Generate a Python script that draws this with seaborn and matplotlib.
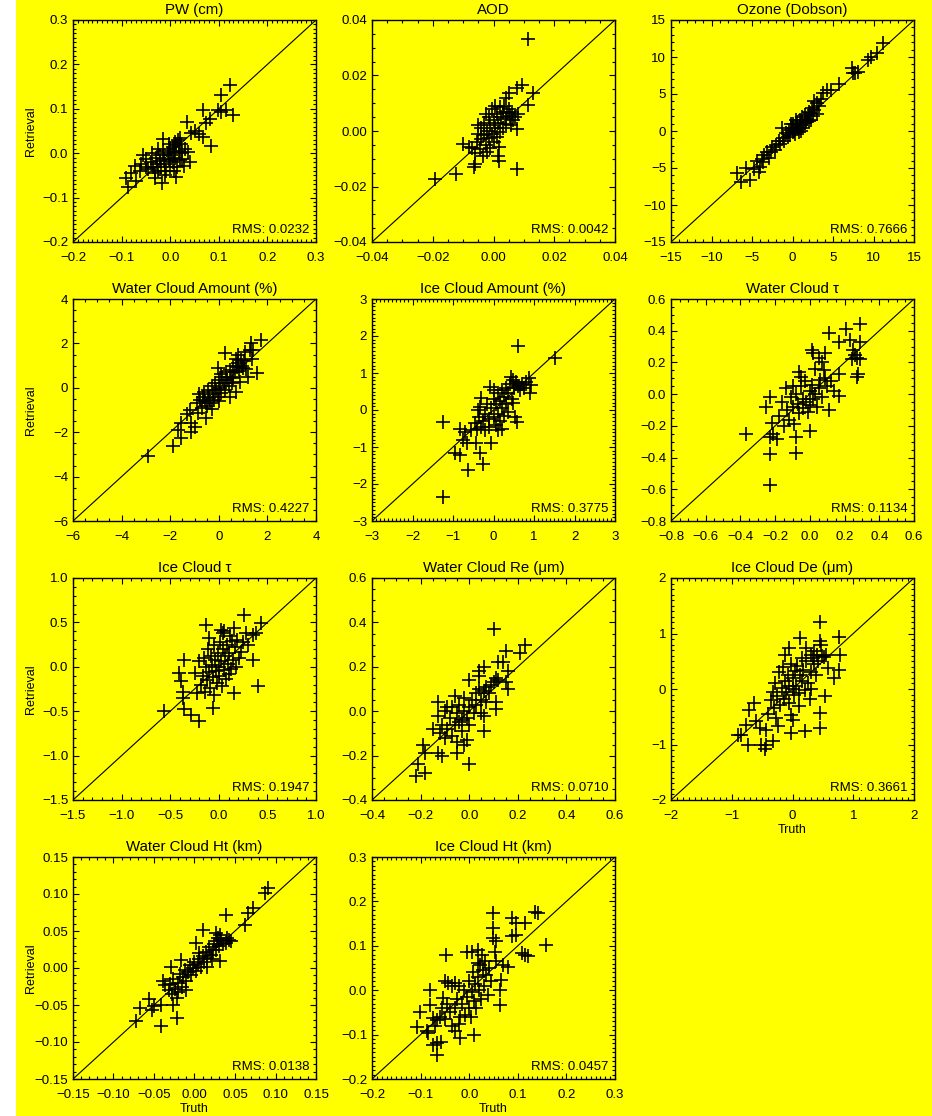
import matplotlib
matplotlib.use("Agg")
import matplotlib.pyplot as plt
from matplotlib.patches import Rectangle
from matplotlib.ticker import MultipleLocator, FuncFormatter
import pandas as pd
import seaborn as sns

# (truth, retrieval) pairs for each retrieved quantity
pw_points = [
    (0.123, 0.154), (0.105, 0.131), (0.068, 0.097), (0.098, 0.097), (0.114, 0.097),
    (0.105, 0.092), (0.129, 0.086), (0.081, 0.078), (0.074, 0.068), (0.035, 0.070),
    (0.084, 0.016), (0.059, 0.044), (0.067, 0.036), (0.042, 0.045), (0.050, 0.050),
    (-0.015, 0.033), (0.016, 0.029), (0.020, 0.034), (0.010, 0.025), (-0.056, -0.005),
    (-0.090, -0.055), (-0.087, -0.075), (-0.073, -0.028), (-0.070, -0.062), (-0.080, -0.045),
    (-0.062, -0.040), (-0.049, -0.013), (-0.050, -0.030), (-0.032, -0.055), (-0.016, -0.066),
    (0.012, -0.053), (0.036, 0.002), (0.029, -0.028), (0.040, -0.020), (0.025, -0.012),
    (-0.040, -0.020), (-0.035, -0.030), (-0.030, -0.010), (-0.028, -0.025), (-0.025, -0.040),
    (-0.022, -0.005), (-0.020, -0.018), (-0.018, -0.032), (-0.015, 0.005), (-0.012, -0.012),
    (-0.010, -0.025), (-0.008, -0.040), (-0.005, 0.000), (-0.003, -0.015), (0.000, 0.010),
    (0.000, -0.030), (0.002, -0.005), (0.005, 0.015), (0.005, -0.020), (0.008, 0.002),
    (0.010, -0.010), (0.012, 0.018), (0.015, -0.030), (0.018, 0.005), (0.020, -0.015),
    (0.022, 0.020), (0.025, 0.000), (-0.045, -0.035), (-0.038, 0.000), (-0.032, -0.045),
    (-0.025, 0.010), (-0.002, 0.020), (0.030, 0.010), (-0.060, -0.025), (-0.010, -0.050),
    (0.008, -0.040),
]

aod_points = [
    (0.0115, 0.0330), (0.0093, 0.0166), (0.0078, 0.0154), (0.0050, 0.0136), (0.0040, 0.0118),
    (0.0129, 0.0136), (0.0113, 0.0093), (0.0078, -0.0137), (-0.0194, -0.0173), (-0.0123, -0.0155),
    (-0.0063, -0.0131), (-0.0060, -0.0120), (0.0018, -0.0107), (-0.0101, -0.0046), (-0.0080, -0.0058),
    (0.0018, -0.0058), (0.0078, 0.0008), (0.0056, 0.0021), (0.0070, 0.0050), (0.0080, 0.0060),
    (-0.0060, -0.0080), (-0.0055, -0.0040), (-0.0050, -0.0010), (-0.0045, -0.0065), (-0.0040, 0.0010),
    (-0.0040, -0.0030), (-0.0035, -0.0090), (-0.0030, -0.0015), (-0.0030, 0.0030), (-0.0025, -0.0050),
    (-0.0020, 0.0000), (-0.0020, -0.0075), (-0.0015, 0.0050), (-0.0015, -0.0025), (-0.0010, 0.0020),
    (-0.0010, -0.0060), (-0.0005, 0.0080), (-0.0005, -0.0010), (0.0000, 0.0040), (0.0000, -0.0040),
    (0.0005, 0.0010), (0.0005, 0.0090), (0.0010, -0.0020), (0.0010, 0.0060), (0.0015, 0.0030),
    (0.0020, 0.0085), (0.0020, -0.0005), (0.0025, 0.0050), (0.0030, 0.0070), (0.0030, 0.0010),
    (0.0035, 0.0090), (0.0040, 0.0045), (0.0045, 0.0065), (0.0050, 0.0080), (0.0055, 0.0055),
    (0.0060, 0.0070), (0.0065, 0.0040), (-0.0070, -0.0060), (-0.0025, 0.0060), (0.0015, -0.0090),
    (-0.0050, 0.0020), (0.0040, 0.0025),
]

ozone_points = [
    (11.2, 11.9), (10.4, 10.6), (9.7, 10.0), (9.3, 9.6), (7.4, 8.5), (8.1, 8.0), (7.7, 7.9),
    (7.5, 7.8), (5.8, 6.4), (4.3, 5.6), (4.7, 5.5), (3.8, 5.2), (3.5, 4.3), (3.0, 3.8),
    (2.7, 4.0), (2.4, 3.1), (3.0, 2.3), (2.0, 2.6), (2.5, 2.0), (1.7, 1.2), (-1.3, 0.4),
    (-6.9, -5.7), (-5.8, -5.0), (-6.3, -6.9), (-5.2, -6.6), (-4.8, -5.2), (-4.1, -5.6),
    (-4.0, -4.8), (-3.8, -3.8), (-3.5, -3.2), (-3.2, -2.9), (-2.9, -3.6), (-2.5, -2.2),
    (-2.0, -1.9), (-2.2, -2.6), (-1.7, -1.3), (-1.5, -1.8), (-1.2, -0.9), (-1.0, -1.4),
    (-0.8, -0.3), (-0.6, -0.8), (-0.4, 0.1), (-0.3, -0.6), (-0.1, 0.4), (0.0, -0.2),
    (0.1, 0.9), (0.2, 0.2), (0.3, -0.4), (0.5, 0.6), (0.6, 1.2), (0.7, 0.3), (0.9, 1.5),
    (1.0, 0.8), (1.2, 1.9), (1.3, 0.4), (1.5, 1.1), (1.6, 2.1), (1.8, 1.6), (2.0, 1.3),
    (2.2, 2.4), (2.3, 1.5), (0.4, 1.5), (-0.2, 0.9), (-3.6, -4.2), (-4.4, -4.1),
    (-2.7, -2.8), (1.1, 0.0), (2.6, 2.8), (3.3, 3.4), (0.8, -0.2),
]

water_amount_points = [
    (-2.9, -3.05), (-1.9, -2.6), (-1.55, -2.28), (-1.69, -1.9), (-1.55, -1.6), (-1.14, -1.6),
    (-1.0, -1.75), (-1.14, -1.98), (-1.18, -1.0), (-0.86, -1.15), (-0.79, -0.55), (-0.66, -0.4),
    (-0.52, -1.38), (0.24, 1.56), (-0.04, 0.88), (0.79, 1.48), (1.07, 1.63), (1.41, 1.71),
    (1.75, 2.16), (1.34, 2.01), (1.59, 0.65), (1.2, 0.5), (0.72, -0.17), (0.45, -0.4),
    (0.86, 0.28), (-0.9, -0.7), (-0.8, -0.3), (-0.7, -0.9), (-0.6, -0.2), (-0.55, -0.6),
    (-0.5, -0.8), (-0.45, -0.1), (-0.4, -0.45), (-0.35, -0.7), (-0.3, 0.1), (-0.25, -0.3),
    (-0.2, -0.55), (-0.15, 0.2), (-0.1, -0.1), (-0.05, -0.4), (0.0, 0.35), (0.05, 0.0),
    (0.1, -0.25), (0.15, 0.5), (0.2, 0.2), (0.25, -0.1), (0.3, 0.7), (0.35, 0.35),
    (0.4, 0.1), (0.45, 0.8), (0.5, 0.5), (0.55, 0.2), (0.6, 1.0), (0.65, 0.7), (0.7, 1.3),
    (0.75, 0.95), (0.8, 1.1), (0.85, 0.75), (0.9, 1.25), (0.95, 1.0), (1.0, 0.9),
    (1.05, 1.2), (1.1, 0.85), (1.3, 1.7), (1.35, 1.3), (-0.3, -0.95), (0.1, 0.6),
    (0.0, -0.6), (-1.3, -1.2), (0.6, 0.45),
]

ice_amount_points = [
    (0.61, 1.72), (1.51, 1.40), (-1.25, -0.32), (-1.25, -2.35), (-0.62, -1.63), (-0.25, -1.45),
    (-0.34, -1.17), (-0.95, -1.17), (-0.83, -1.22), (-0.42, -0.90), (-0.07, -0.89), (-0.83, -0.5),
    (-0.70, -0.59), (-0.75, -0.81), (-0.66, -0.90), (-0.09, 0.63), (-0.3, 0.32), (-0.34, 0.09),
    (-0.38, 0.0), (0.48, 0.18), (0.52, -0.18), (0.57, -0.32), (0.89, 0.45), (0.93, 0.68),
    (0.88, 0.86), (0.44, 0.90), (0.48, 0.81), (-0.45, -0.35), (-0.4, -0.5), (-0.35, -0.2),
    (-0.3, -0.45), (-0.25, -0.3), (-0.2, -0.1), (-0.2, -0.55), (-0.15, 0.15), (-0.1, -0.25),
    (-0.1, -0.45), (-0.05, 0.05), (0.0, 0.3), (0.0, -0.2), (0.05, -0.4), (0.05, 0.15),
    (0.1, 0.45), (0.1, -0.1), (0.15, 0.25), (0.15, -0.3), (0.2, 0.05), (0.2, 0.55),
    (0.25, 0.35), (0.25, -0.15), (0.3, 0.6), (0.3, 0.15), (0.35, 0.45), (0.35, -0.05),
    (0.4, 0.7), (0.45, 0.3), (0.5, 0.6), (0.55, 0.75), (0.6, 0.65), (0.65, 0.55),
    (0.7, 0.7), (0.75, 0.6), (0.8, 0.75), (0.1, -0.55), (0.2, -0.5), (-0.55, -0.55),
    (0.0, 0.55),
]

water_tau_points = [
    (0.29, 0.44), (0.21, 0.41), (0.11, 0.385), (0.17, 0.33), (0.23, 0.34), (0.29, 0.33),
    (0.25, 0.28), (0.26, 0.25), (0.27, 0.23), (0.29, 0.22), (0.24, 0.22), (0.28, 0.13),
    (0.27, 0.11), (0.17, 0.13), (0.17, -0.01), (0.11, -0.10), (-0.37, -0.25), (-0.23, -0.02),
    (-0.25, -0.08), (-0.22, -0.18), (-0.23, -0.38), (-0.23, -0.57), (-0.08, -0.37), (-0.08, -0.27),
    (-0.23, -0.27), (-0.19, -0.28), (-0.21, -0.25), (0.01, 0.28), (0.02, 0.26), (-0.06, 0.14),
    (0.0, -0.23), (0.07, 0.2), (0.09, 0.26), (0.05, 0.23), (-0.16, -0.05), (-0.15, -0.20),
    (-0.14, 0.04), (-0.13, -0.10), (-0.12, -0.16), (-0.11, -0.02), (-0.10, -0.08), (-0.09, -0.19),
    (-0.08, 0.0), (-0.07, -0.06), (-0.06, -0.12), (-0.05, 0.05), (-0.04, -0.03), (-0.04, -0.09),
    (-0.03, 0.08), (-0.02, -0.05), (-0.01, -0.11), (0.0, 0.02), (0.0, -0.07), (0.01, 0.06),
    (0.02, -0.03), (0.03, 0.0), (0.04, -0.08), (0.05, 0.04), (0.06, 0.09), (0.07, -0.02),
    (0.08, 0.15), (0.09, 0.1), (0.10, 0.05), (0.12, 0.08), (0.14, 0.02), (-0.05, 0.11),
    (-0.10, 0.05), (-0.18, -0.14), (0.03, 0.16),
]

ice_tau_points = [
    (0.255, 0.58), (-0.13, 0.475), (0.43, 0.49), (0.38, 0.38), (0.35, 0.36), (0.28, 0.38),
    (0.35, 0.08), (0.40, -0.22), (0.16, -0.30), (-0.06, -0.46), (-0.20, -0.61), (-0.29, -0.54),
    (-0.36, -0.48), (-0.56, -0.50), (-0.37, -0.35), (-0.37, -0.28), (-0.41, -0.07), (-0.39, -0.16),
    (-0.36, 0.08), (-0.24, -0.07), (-0.20, 0.06), (0.02, 0.42), (0.04, 0.38), (0.16, 0.44),
    (0.14, 0.29), (0.23, 0.17), (0.21, 0.10), (0.30, 0.25), (0.25, 0.28), (-0.18, -0.20),
    (-0.16, -0.10), (-0.15, 0.10), (-0.14, -0.28), (-0.13, 0.00), (-0.12, -0.15), (-0.11, 0.20),
    (-0.10, -0.06), (-0.09, -0.24), (-0.08, 0.12), (-0.07, 0.02), (-0.06, -0.12), (-0.05, 0.25),
    (-0.05, -0.32), (-0.04, 0.08), (-0.03, -0.05), (-0.02, -0.18), (-0.01, 0.16), (0.0, 0.0),
    (0.0, -0.10), (0.01, 0.28), (0.02, 0.06), (0.03, -0.22), (0.04, 0.20), (0.05, -0.04),
    (0.06, 0.12), (0.07, -0.14), (0.08, 0.25), (0.09, 0.03), (0.10, -0.08), (0.11, 0.15),
    (0.12, 0.35), (0.13, -0.02), (0.15, 0.08), (0.17, 0.22), (0.19, 0.30), (-0.10, 0.32),
    (0.05, 0.40), (-0.22, -0.30), (0.18, 0.0),
]

water_re_points = [
    (0.10, 0.37), (0.23, 0.30), (0.21, 0.26), (0.15, 0.27), (0.12, 0.22), (0.14, 0.22),
    (0.06, 0.20), (0.04, 0.18), (0.04, 0.16), (0.0, 0.14), (0.16, 0.18), (0.16, 0.10),
    (0.15, 0.13), (0.11, 0.15), (0.10, 0.13), (0.11, 0.04), (0.11, 0.01), (-0.13, 0.04),
    (0.0, -0.24), (-0.19, -0.15), (-0.18, -0.19), (-0.21, -0.24), (-0.22, -0.29), (-0.18, -0.28),
    (-0.13, -0.19), (-0.11, -0.20), (-0.05, -0.19), (-0.02, -0.15), (-0.01, -0.13), (0.06, -0.09),
    (-0.06, 0.07), (-0.02, 0.06), (-0.13, -0.02), (-0.12, -0.10), (-0.11, -0.06), (-0.10, -0.12),
    (-0.10, 0.0), (-0.09, -0.08), (-0.08, -0.03), (-0.07, -0.11), (-0.07, 0.02), (-0.06, -0.06),
    (-0.05, -0.01), (-0.05, -0.14), (-0.04, 0.03), (-0.03, -0.04), (-0.03, -0.09), (-0.02, 0.0),
    (-0.01, -0.03), (0.0, 0.02), (0.0, -0.06), (0.01, 0.05), (0.02, -0.01), (0.03, 0.08),
    (0.03, 0.03), (0.04, 0.10), (0.05, 0.05), (0.05, -0.01), (0.06, 0.09), (0.07, 0.11),
    (0.07, 0.04), (0.08, 0.08), (0.09, 0.12), (0.06, -0.02), (-0.09, 0.02), (-0.15, -0.08),
    (0.12, 0.14), (-0.04, -0.05),
]

ice_de_points = [
    (0.46, 1.21), (0.13, 0.92), (0.76, 0.93), (0.45, 0.86), (0.47, 0.80), (-0.06, 0.74),
    (-0.12, 0.62), (0.23, 0.74), (0.31, 0.62), (0.36, 0.68), (0.78, 0.62), (0.77, 0.35),
    (0.69, 0.20), (0.58, 0.38), (0.53, -0.13), (0.45, -0.43), (0.45, -0.70), (0.21, -0.76),
    (-0.02, -0.79), (-0.63, -0.25), (-0.71, -0.37), (-0.76, -0.64), (-0.90, -0.82), (-0.85, -0.82),
    (-0.74, -1.0), (-0.52, -1.0), (-0.43, -1.0), (-0.46, -1.09), (-0.32, -0.94), (-0.60, -0.58),
    (-0.54, -0.70), (-0.43, -0.73), (0.0, -0.55), (-0.02, -0.46), (-0.27, -0.52), (-0.24, -0.67),
    (-0.35, -0.20), (-0.32, -0.05), (-0.30, -0.35), (-0.28, 0.10), (-0.25, -0.12), (-0.22, 0.30),
    (-0.20, -0.28), (-0.18, 0.02), (-0.15, 0.40), (-0.14, -0.18), (-0.12, 0.15), (-0.10, -0.05),
    (-0.08, 0.25), (-0.06, -0.25), (-0.05, 0.05), (-0.03, 0.45), (0.0, 0.0), (0.0, 0.20),
    (0.02, -0.10), (0.04, 0.32), (0.06, 0.05), (0.08, 0.42), (0.10, -0.08), (0.12, 0.25),
    (0.15, 0.15), (0.18, 0.35), (0.20, -0.02), (0.22, 0.50), (0.25, 0.10), (0.28, -0.18),
    (0.30, 0.30), (0.33, 0.55), (0.35, 0.45), (0.38, 0.25), (0.40, 0.62), (0.42, 0.50),
    (0.48, 0.60), (0.52, 0.58), (0.55, 0.62), (0.30, 0.00), (0.10, -0.30), (-0.40, -0.45),
    (0.15, 0.55),
]

water_ht_points = [
    (0.091, 0.108), (0.087, 0.101), (0.072, 0.081), (0.066, 0.074), (0.062, 0.058), (0.039, 0.072),
    (0.010, 0.052), (0.002, 0.034), (0.029, 0.040), (0.033, 0.038), (0.043, 0.038), (0.039, 0.034),
    (0.027, 0.047), (0.031, 0.045), (0.031, 0.009), (0.023, 0.025), (-0.072, -0.072), (-0.067, -0.054),
    (-0.056, -0.042), (-0.050, -0.052), (-0.052, -0.057), (-0.041, -0.050), (-0.041, -0.079),
    (-0.021, -0.068), (-0.027, -0.050), (-0.039, -0.018), (-0.037, -0.023), (-0.029, 0.002),
    (-0.017, 0.011), (-0.032, -0.030), (-0.030, -0.022), (-0.028, -0.035), (-0.026, -0.015),
    (-0.024, -0.028), (-0.022, -0.040), (-0.020, -0.020), (-0.018, -0.008), (-0.016, -0.025),
    (-0.014, -0.012), (-0.012, -0.003), (-0.010, -0.018), (-0.008, -0.006), (-0.006, 0.004),
    (-0.004, -0.010), (-0.002, 0.000), (0.000, 0.008), (0.002, -0.004), (0.004, 0.006),
    (0.006, 0.012), (0.008, 0.002), (0.010, 0.016), (0.012, 0.008), (0.014, 0.022),
    (0.016, 0.014), (0.018, 0.028), (0.020, 0.018), (0.022, 0.012), (0.024, 0.032),
    (0.026, 0.024), (0.028, 0.036), (0.030, 0.030), (0.035, 0.032), (0.040, 0.040),
    (0.045, 0.036), (-0.020, -0.032), (-0.010, -0.030), (0.005, 0.020), (0.015, 0.002),
]

ice_ht_points = [
    (0.135, 0.177), (0.142, 0.174), (0.049, 0.174), (0.089, 0.162), (0.097, 0.151), (0.114, 0.151),
    (0.049, 0.140), (0.097, 0.125), (0.089, 0.121), (0.049, 0.117), (0.056, 0.110), (0.157, 0.101),
    (-0.048, 0.080), (-0.004, 0.087), (0.005, 0.087), (0.019, 0.091), (0.026, 0.080), (0.108, 0.083),
    (0.114, 0.080), (0.121, 0.076), (0.053, 0.087), (0.056, 0.065), (0.032, 0.065), (0.019, 0.061),
    (0.022, 0.057), (0.080, 0.053), (0.070, 0.057), (0.066, 0.023), (0.063, 0.001), (0.063, -0.033),
    (0.010, -0.101), (-0.019, -0.108), (-0.029, -0.093), (-0.080, 0.001), (-0.101, -0.048),
    (-0.107, -0.082), (-0.087, -0.093), (-0.084, -0.097), (-0.074, -0.123), (-0.067, -0.120),
    (-0.057, -0.116), (-0.067, -0.146), (-0.074, -0.063), (-0.067, -0.067), (-0.080, -0.033),
    (-0.053, -0.018), (-0.050, 0.020), (-0.043, 0.016), (-0.029, 0.016), (-0.060, -0.060),
    (-0.055, -0.040), (-0.050, -0.065), (-0.045, -0.030), (-0.040, -0.050), (-0.035, 0.010),
    (-0.030, -0.040), (-0.025, -0.020), (-0.020, 0.010), (-0.018, -0.060), (-0.015, -0.030),
    (-0.010, 0.000), (-0.008, -0.055), (-0.005, -0.015), (0.000, 0.020), (0.000, -0.040),
    (0.005, -0.005), (0.008, 0.040), (0.010, -0.025), (0.012, 0.015), (0.015, -0.040),
    (0.018, 0.030), (0.020, 0.000), (0.025, -0.020), (0.028, 0.045), (0.030, 0.010),
    (0.035, 0.035), (0.038, -0.010), (0.040, 0.050), (0.045, 0.020), (-0.070, -0.080),
    (-0.022, -0.075), (0.003, -0.060), (-0.035, -0.080),
]

titles = [
    "PW (cm)", "AOD", "Ozone (Dobson)",
    "Water Cloud Amount (%)", "Ice Cloud Amount (%)", "Water Cloud \u03c4",
    "Ice Cloud \u03c4", "Water Cloud Re (\u03bcm)", "Ice Cloud De (\u03bcm)",
    "Water Cloud Ht (km)", "Ice Cloud Ht (km)",
]
rms_labels = ["0.0232", "0.0042", "0.7666", "0.4227", "0.3775", "0.1134",
              "0.1947", "0.0710", "0.3661", "0.0138", "0.0457"]
panel_points = [pw_points, aod_points, ozone_points, water_amount_points, ice_amount_points,
                water_tau_points, ice_tau_points, water_re_points, ice_de_points,
                water_ht_points, ice_ht_points]
# axis range, major step, minor step, decimals
axis_ranges = [(-0.2, 0.3), (-0.04, 0.04), (-15, 15), (-6, 4), (-3, 3), (-0.8, 0.6),
               (-1.5, 1.0), (-0.4, 0.6), (-2, 2), (-0.15, 0.15), (-0.2, 0.3)]
major_steps = [0.1, 0.02, 5, 2, 1, 0.2, 0.5, 0.2, 1, 0.05, 0.1]
minor_steps = [0.01, 0.005, 1, 0.5, 0.1, 0.05, 0.1, 0.05, 0.1, 0.01, 0.01]
decimals = [1, 2, 0, 0, 0, 1, 1, 1, 0, 2, 1]
truth_label_panels = {8, 9, 10}

YELLOW = "#FFFF00"
W, H = 932, 1116
plt.rcParams["font.family"] = ["Liberation Sans", "DejaVu Sans"]
plt.rcParams["font.size"] = 9.5

fig = plt.figure(figsize=(W / 100, H / 100), dpi=100, facecolor=YELLOW)
fig.patches.append(Rectangle((0, 0), 16 / W, 1, transform=fig.transFigure,
                             facecolor="white", edgecolor="none", zorder=-5))

col_left = [73, 372, 671]
row_top = [20, 299, 578, 857]
ax_w, ax_h = 243, 222


def make_formatter(nd):
    def fmt(v, _pos):
        s = f"{v:.{nd}f}"
        if float(s) == 0:
            s = s.lstrip("-")
        return s.replace("-", "\u2212")
    return FuncFormatter(fmt)


for i, pts in enumerate(panel_points):
    r, c = divmod(i, 3)
    left = col_left[c] / W
    bottom = 1 - (row_top[r] + ax_h) / H
    ax = fig.add_axes([left, bottom, ax_w / W, ax_h / H])
    ax.set_facecolor(YELLOW)

    df = pd.DataFrame(pts, columns=["truth", "retrieval"])
    sns.scatterplot(data=df, x="truth", y="retrieval", ax=ax, marker="+", s=90,
                    color="black", linewidth=1.2, legend=False, zorder=3)

    lo, hi = axis_ranges[i]
    ax.plot([lo, hi], [lo, hi], color="black", linewidth=0.8, zorder=2)
    ax.set_xlim(lo, hi)
    ax.set_ylim(lo, hi)

    for axis in (ax.xaxis, ax.yaxis):
        axis.set_major_locator(MultipleLocator(major_steps[i]))
        axis.set_minor_locator(MultipleLocator(minor_steps[i]))
        axis.set_major_formatter(make_formatter(decimals[i]))
    ax.tick_params(which="both", direction="in", top=True, right=True,
                   color="black", width=0.8)
    ax.tick_params(which="major", length=4.5)
    ax.tick_params(which="minor", length=2)
    ax.tick_params(axis="x", which="major", pad=7, labelsize=9.5)
    ax.tick_params(axis="y", which="major", pad=3.5, labelsize=9.5)
    for sp in ax.spines.values():
        sp.set_linewidth(1.0)
        sp.set_color("black")

    ax.set_title(titles[i], fontsize=10.8, pad=4)
    ax.text(0.973, 0.054, f"RMS: {rms_labels[i]}", transform=ax.transAxes,
            ha="right", va="center", fontsize=9.5, zorder=4)

    if c == 0:
        ax.set_ylabel("Retrieval", fontsize=9)
        ax.yaxis.set_label_coords(-0.15, 0.5)
    else:
        ax.set_ylabel("")
    if i in truth_label_panels:
        ax.set_xlabel("Truth", fontsize=9)
        ax.xaxis.set_label_coords(0.5, -0.11)
    else:
        ax.set_xlabel("")

fig.savefig("out.png", dpi=100, facecolor=YELLOW)
